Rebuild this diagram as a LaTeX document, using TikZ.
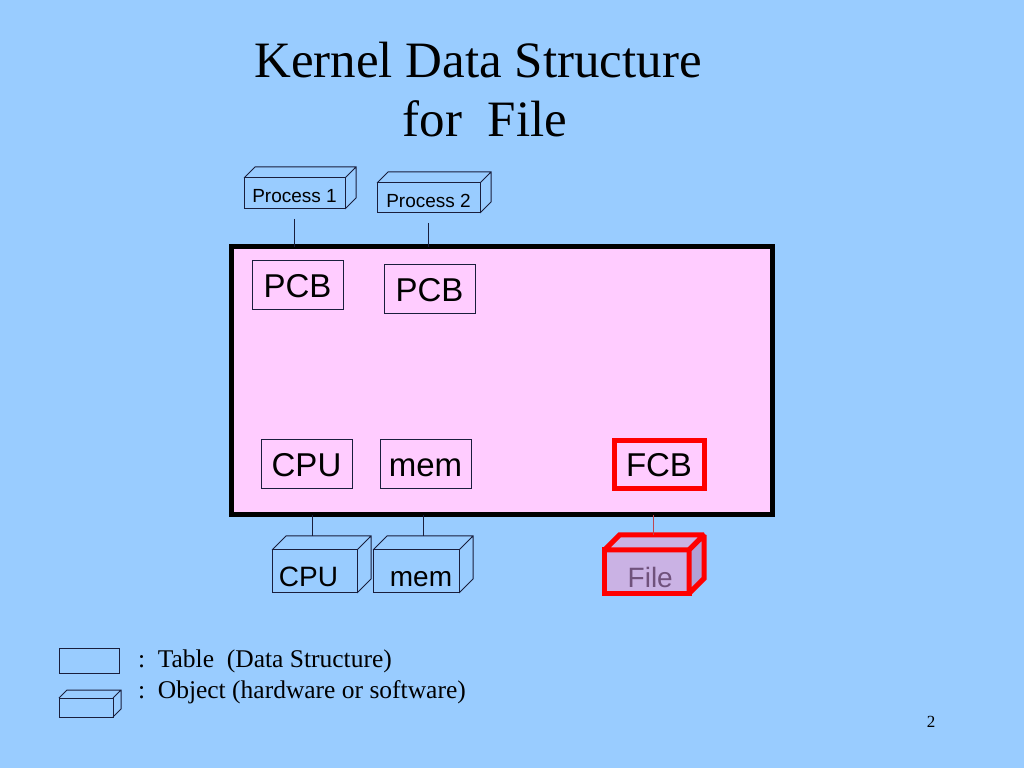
\documentclass[tikz,border=0pt]{standalone}
\usepackage{fontspec}
\setmainfont{Liberation Serif}
\setsansfont{Liberation Sans}
\usetikzlibrary{positioning}
\definecolor{slideblue}{RGB}{153,204,255}
\definecolor{kernelpink}{RGB}{255,204,255}
\definecolor{edgenavy}{RGB}{25,30,60}
\definecolor{filefill}{RGB}{202,178,228}
\definecolor{fileside}{RGB}{178,160,214}
\definecolor{filetext}{RGB}{112,82,124}
\definecolor{filelink}{RGB}{190,70,80}

\begin{document}
\begin{tikzpicture}[
  x=1pt, y=1pt,
  every node/.style = {outer sep=0pt, inner sep=0pt},
  title/.style      = {anchor=base, font=\fontsize{51}{60}\selectfont},
  table box/.style  = {draw=edgenavy, line width=1pt, minimum width=91pt, minimum height=49pt,
    text height=23.6pt, text depth=0pt, font=\fontsize{33}{36}\selectfont\sffamily},
  fcb box/.style    = {table box, draw=red, line width=5pt, minimum width=90pt, minimum height=48pt},
  obj box/.style    = {draw=edgenavy, line width=1pt, text depth=0pt, text height=31pt,
    font=\fontsize{28}{30}\selectfont\sffamily},
  proc box/.style   = {obj box, text height=19pt, font=\fontsize{19}{21}\selectfont\sffamily},
  obj face/.style   = {draw=edgenavy, line width=1pt},
  file box/.style   = {obj box, draw=red, line width=5pt, fill=filefill, text=filetext, text height=32pt},
  file top/.style   = {draw=red, line width=5pt, fill=filefill, miter limit=2},
  file side/.style  = {draw=red, line width=5pt, fill=fileside, miter limit=2},
  link/.style       = {draw=edgenavy, line width=1pt},
  legend/.style     = {anchor=base west, font=\fontsize{25.5}{28}\selectfont},
]

% slide
\fill[slideblue] (0,0) rectangle (1024,768);

\node[title] (title1) at (478,690) {Kernel Data Structure};
\node[title] (title2) at (485,631) {for\ \ File};

% processes
\node[proc box, minimum width=101pt, minimum height=31pt] (proc1) at (294.5,574.5) {Process 1};
\node[proc box, minimum width=103pt, minimum height=30pt] (proc2) at (428.5,570)   {Process 2};

% kernel
\node[draw=black, line width=5pt, fill=kernelpink, minimum width=541pt, minimum height=268pt]
  (kernel) at (501.5,387) {};

\node[table box] (pcb1) at (297.5,482.5) {PCB};
\node[table box] (pcb2) at (429.5,478.5) {PCB};
\node[table box] (cpu-tab) at (306.5,303.5) {CPU};
\node[table box] (mem-tab) at (425.5,303.5) {mem};
\node[fcb box]   (fcb)     at (659,303)     {FCB};

% objects
\node[obj box, minimum width=85pt, minimum height=43pt] (cpu-obj) at (314.5,196.5) {\hspace{-12pt}CPU};
\node[obj box, minimum width=86pt, minimum height=43pt] (mem-obj) at (416,196.5)   {\hspace{10pt}mem};
\node[file box, minimum width=84.5pt, minimum height=43.5pt] (file-obj) at (646.75,196.25) {\hspace{7pt}File};

\foreach \n/\d in {proc1/11, proc2/11, cpu-obj/14, mem-obj/14}
  \draw[obj face] (\n.north west) -- ++(\d,\d) -- ([shift={(\d,\d)}]\n.north east)
    -- ([shift={(\d,\d)}]\n.south east) -- (\n.south east)
    (\n.north east) -- ++(\d,\d);

\draw[file top]  (file-obj.north west) -- ++(15,15) -- ([shift={(15,15)}]file-obj.north east)
  -- (file-obj.north east) -- cycle;
\draw[file side] (file-obj.north east) -- ++(15,15) -- ([shift={(15,15)}]file-obj.south east)
  -- (file-obj.south east) -- cycle;

% links
\draw[link] ([yshift=-10pt]proc1.south) -- (proc1.south |- kernel.north);
\draw[link] ([yshift=-10pt]proc2.south) -- (proc2.south |- kernel.north);
\draw[link] ([xshift=-2.5pt]cpu-obj.north |- kernel.south) -- ([xshift=-2.5pt,yshift=14pt]cpu-obj.north);
\draw[link] ([xshift=7pt]mem-obj.north |- kernel.south) -- ([xshift=7pt,yshift=14pt]mem-obj.north);
\draw[filelink, line width=1.5pt] ([xshift=6.5pt]file-obj.north |- kernel.south)
  -- ([xshift=6.5pt,yshift=15pt]file-obj.north);

% legend
\node[draw=edgenavy, line width=1pt, minimum width=60pt, minimum height=25pt] (key-tab) at (89,107.5) {};
\node[draw=edgenavy, line width=1pt, minimum width=54pt, minimum height=19pt] (key-obj) at (86,60.5) {};
\draw[obj face] (key-obj.north west) -- ++(8,8) -- ([shift={(8,8)}]key-obj.north east)
  -- ([shift={(8,8)}]key-obj.south east) -- (key-obj.south east)
  (key-obj.north east) -- ++(8,8);

\node[legend] (key-tab-text) at (138,101) {:\ \ Table\ \ (Data Structure)};
\node[legend] (key-obj-text) at (138,70)  {:\ \ Object (hardware or software)};

\node[anchor=base, font=\fontsize{17}{20}\selectfont] (page) at (931,41) {2};

\end{tikzpicture}
\end{document}
